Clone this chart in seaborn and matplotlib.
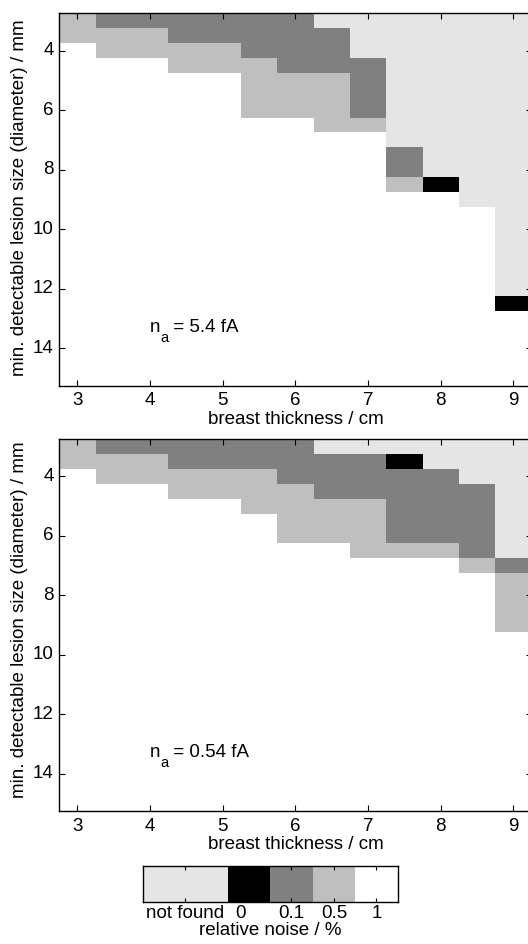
import numpy as np
import matplotlib
matplotlib.use("Agg")
import matplotlib.pyplot as plt
from matplotlib.colors import ListedColormap
from matplotlib.transforms import offset_copy
import seaborn as sns

# ---------------- data ----------------
thickness = [3.0, 3.5, 4.0, 4.5, 5.0, 5.5, 6.0, 6.5, 7.0, 7.5, 8.0, 8.5, 9.0]   # cm
lesion_sizes = [3.0 + 0.5 * i for i in range(25)]                                # mm (3 ... 15)

# minimum detectable lesion size (mm) for each relative noise level, n_a = 5.4 fA
top_min_0   = [3.0, 3.0, 3.0, 3.0, 3.0, 3.0, 3.0, 3.5, 4.5, 7.5, 8.5, 9.5, 12.5]
top_min_01  = [3.0, 3.0, 3.0, 3.0, 3.0, 3.0, 3.0, 3.5, 4.5, 7.5, 9.0, 9.5, 13.0]
top_min_05  = [3.0, 3.5, 3.5, 4.0, 4.0, 4.5, 5.0, 5.0, 6.5, 8.5, 9.0, 9.5, 13.0]
top_min_1   = [4.0, 4.5, 4.5, 5.0, 5.0, 6.5, 6.5, 7.0, 7.0, 9.0, 9.0, 9.5, 13.0]

# n_a = 0.54 fA
bot_min_0   = [3.0, 3.0, 3.0, 3.0, 3.0, 3.0, 3.0, 3.5, 3.5, 3.5, 4.0, 4.5, 7.0]
bot_min_01  = [3.0, 3.0, 3.0, 3.0, 3.0, 3.0, 3.0, 3.5, 3.5, 4.0, 4.0, 4.5, 7.0]
bot_min_05  = [3.0, 3.5, 3.5, 4.0, 4.0, 4.0, 4.5, 5.0, 5.0, 6.5, 6.5, 7.0, 7.5]
bot_min_1   = [4.0, 4.5, 4.5, 5.0, 5.0, 5.5, 6.5, 6.5, 7.0, 7.0, 7.0, 7.5, 9.5]

category_labels = ["not found", "0", "0.1", "0.5", "1"]
category_colors = ["#e5e5e5", "#000000", "#808080", "#bfbfbf", "#ffffff"]
panel_values = [" = 5.4 fA", " = 0.54 fA"]
x_ticks = [3, 4, 5, 6, 7, 8, 9]
y_ticks = [4, 6, 8, 10, 12, 14]


def build_grid(mins):
    s = np.array(lesion_sizes)[:, None]
    grid = np.zeros((len(lesion_sizes), len(thickness)), dtype=int)
    for m in mins:
        grid += (s >= np.array(m)[None, :] - 1e-9).astype(int)
    return grid


# ---------------- style ----------------
plt.rcParams["font.family"] = ["Liberation Sans", "DejaVu Sans"]
plt.rcParams["axes.linewidth"] = 1.0
FS = 13.5

W, H = 528, 944
fig = plt.figure(figsize=(W / 100, H / 100), dpi=100)
cmap = ListedColormap(category_colors)

x0, x1 = 59.3, 531.5
panels = [
    (13.3, 385.5, [top_min_0, top_min_01, top_min_05, top_min_1], panel_values[0], 0.505),
    (439.2, 810.7, [bot_min_0, bot_min_01, bot_min_05, bot_min_1], panel_values[1], 0.515),
]

x_lo = thickness[0] - 0.25
y_lo = lesion_sizes[0] - 0.25
for top, bottom, mins, val, ylab_y in panels:
    ax = fig.add_axes([x0 / W, 1 - bottom / H, (x1 - x0) / W, (bottom - top) / H])
    grid = build_grid(mins)
    sns.heatmap(grid, cmap=cmap, vmin=-0.5, vmax=4.5, cbar=False, ax=ax,
                linewidths=0)
    ax.set_xticks([(t - x_lo) / 0.5 for t in x_ticks])
    ax.set_xticklabels([str(t) for t in x_ticks], rotation=0, fontsize=FS)
    ax.set_yticks([(t - y_lo) / 0.5 for t in y_ticks])
    ax.set_yticklabels([str(t) for t in y_ticks], rotation=0, fontsize=FS)
    ax.tick_params(direction="in", top=True, right=True, length=4, width=0.8,
                   pad=5, colors="black")
    ax.tick_params(axis="y", pad=4)
    for sp in ax.spines.values():
        sp.set_visible(True)
        sp.set_color("black")
        sp.set_linewidth(1.0)
    ax.set_xlabel("breast thickness / cm", fontsize=FS, labelpad=1)
    ax.set_ylabel("min. detectable lesion size (diameter) / mm", fontsize=FS)
    ax.yaxis.set_label_coords(-0.066, ylab_y)

    # annotation "n_a = ..." with MATLAB-like low subscript
    tx, ty = (4.0 - x_lo) / 0.5, (13.45 - y_lo) / 0.5
    ax.text(tx, ty, "n", fontsize=FS, ha="left", va="baseline")
    ax.text(tx, ty, "a", fontsize=10.5, ha="left", va="baseline",
            transform=offset_copy(ax.transData, fig=fig, x=7.3, y=-7.2, units="points"))
    ax.text(tx, ty, val, fontsize=FS, ha="left", va="baseline",
            transform=offset_copy(ax.transData, fig=fig, x=12.6, y=0, units="points"))

# ---------------- colorbar ----------------
cb_codes = np.array([[0, 0, 1, 2, 3, 4]])
cl, cr, ct, cbm = 142.7, 397.7, 865.7, 902.3
cax = fig.add_axes([cl / W, 1 - cbm / H, (cr - cl) / W, (cbm - ct) / H])
sns.heatmap(cb_codes, cmap=cmap, vmin=-0.5, vmax=4.5, cbar=False, ax=cax)
cax.set_xticks([1.0, 2.3, 3.5, 4.5, 5.5])
cax.set_xticklabels(category_labels, rotation=0, fontsize=FS)
cax.set_yticks([])
cax.tick_params(axis="x", direction="in", top=True, bottom=True, length=3,
                width=0.8, pad=2)
for sp in cax.spines.values():
    sp.set_visible(True)
    sp.set_color("black")
    sp.set_linewidth(1.0)
cax.set_xlabel("relative noise / %", fontsize=FS, labelpad=0)

fig.savefig("out.png", dpi=100)
